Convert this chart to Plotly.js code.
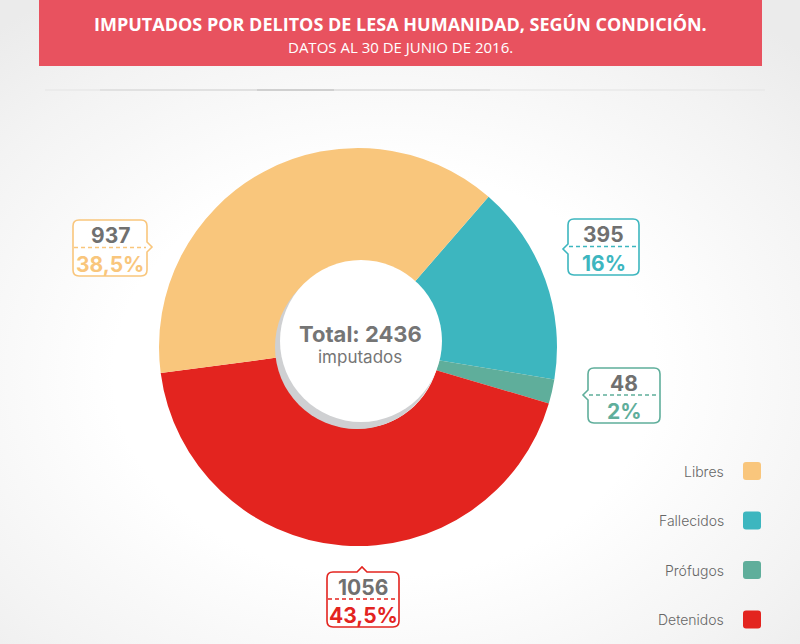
<!DOCTYPE html>
<html>
<head>
<meta charset="utf-8">
<script src="https://cdn.plot.ly/plotly-3.0.1.min.js"></script>
<style>
  html, body { margin: 0; padding: 0; }
  body {
    width: 800px; height: 644px; overflow: hidden;
    background: radial-gradient(ellipse 75% 70% at 48% 58%, #ffffff 45%, #f3f3f3 80%, #ebebeb 100%);
  }
  #chart { width: 800px; height: 644px; }
</style>
</head>
<body>
<div id="chart"></div>
<script>
// Imputados por delitos de lesa humanidad, según condición (30/06/2016)
const categories = ["Fallecidos", "Prófugos", "Detenidos", "Libres"];
const counts = [395, 48, 1056, 937];
const percentLabels = ["16%", "2%", "43,5%", "38,5%"];
const colors = ["#3db6bf", "#5fae9b", "#e3241f", "#f9c67c"];
const legendOrder = ["Libres", "Fallecidos", "Prófugos", "Detenidos"];
const totalLabel = "Total: 2436";
const titleText = "IMPUTADOS POR DELITOS DE LESA HUMANIDAD, SEGÚN CONDICIÓN.";
const subtitleText = "DATOS AL 30 DE JUNIO DE 2016.";

const W = 800, H = 644;
const NUM_FONT = "Inter, 'Open Sans', sans-serif";
const GREY = "#707070";

// Callout boxes (pixel frame), one per category, in the order above
const callouts = {
  "Fallecidos": {x0: 568, y0: 219, x1: 639, y1: 275, side: "left",  p: 249},
  "Prófugos":   {x0: 588, y0: 368, x1: 660, y1: 423, side: "left",  p: 395},
  "Detenidos":  {x0: 327, y0: 572, x1: 399, y1: 627, side: "top",   p: 362},
  "Libres":     {x0: 73,  y0: 220, x1: 147, y1: 276, side: "right", p: 247}
};

function calloutPath(b) {
  const r = 6, t = 5;
  let d = `M${b.x0 + r},${b.y0}`;
  if (b.side === "top") d += ` L${b.p - t},${b.y0} L${b.p},${b.y0 - t} L${b.p + t},${b.y0}`;
  d += ` L${b.x1 - r},${b.y0} Q${b.x1},${b.y0} ${b.x1},${b.y0 + r}`;
  if (b.side === "right") d += ` L${b.x1},${b.p - t} L${b.x1 + t},${b.p} L${b.x1},${b.p + t}`;
  d += ` L${b.x1},${b.y1 - r} Q${b.x1},${b.y1} ${b.x1 - r},${b.y1}`;
  d += ` L${b.x0 + r},${b.y1} Q${b.x0},${b.y1} ${b.x0},${b.y1 - r}`;
  if (b.side === "left") d += ` L${b.x0},${b.p + t} L${b.x0 - t},${b.p} L${b.x0},${b.p - t}`;
  d += ` L${b.x0},${b.y0 + r} Q${b.x0},${b.y0} ${b.x0 + r},${b.y0} Z`;
  return d;
}

const pieCenter = {x: 358, y: 347}, pieR = 199;

const traces = [
  // empty carrier for the pixel-frame axes used by shapes/annotations
  {type: "scatter", x: [], y: [], showlegend: false, hoverinfo: "skip"},
  {
    type: "pie",
    labels: categories,
    values: counts,
    sort: false,
    direction: "clockwise",
    rotation: 41,
    hole: 0.41,
    marker: {colors: colors, line: {width: 0}},
    textinfo: "none",
    hoverinfo: "skip",
    showlegend: false,
    domain: {
      x: [(pieCenter.x - pieR) / W, (pieCenter.x + pieR) / W],
      y: [1 - (pieCenter.y + pieR) / H, 1 - (pieCenter.y - pieR) / H]
    }
  }
];

const shapes = [];
const annotations = [];

// Header banner
shapes.push({type: "rect", xref: "x", yref: "y", x0: 39, x1: 762, y0: 0, y1: 66,
  fillcolor: "#e8525f", line: {width: 0}, layer: "below"});
annotations.push({xref: "x", yref: "y", x: 400, y: 24, text: "<b>" + titleText + "</b>",
  showarrow: false, font: {family: "'Open Sans', sans-serif", size: 18, color: "#ffffff"}});
annotations.push({xref: "x", yref: "y", x: 400, y: 47, text: subtitleText,
  showarrow: false, font: {family: "'Open Sans', sans-serif", size: 15, color: "#ffffff", weight: 400}});

// Divider rule below the header
[[45, 765, "#e8e8e8"], [100, 490, "#dedede"], [257, 334, "#cacaca"]].forEach(s => {
  shapes.push({type: "line", xref: "x", yref: "y", x0: s[0], x1: s[1], y0: 90, y1: 90,
    line: {color: s[2], width: 1.5}, layer: "below"});
});

// Centre disc with its drop shadow
shapes.push({type: "circle", xref: "x", yref: "y", x0: 357 - 82, x1: 357 + 82, y0: 347 - 82, y1: 347 + 82,
  fillcolor: "#cfd0d2", line: {width: 0}, layer: "above"});
shapes.push({type: "circle", xref: "x", yref: "y", x0: 361 - 81, x1: 361 + 81, y0: 341 - 81, y1: 341 + 81,
  fillcolor: "#ffffff", line: {width: 0}, layer: "above"});
annotations.push({xref: "x", yref: "y", x: 360, y: 334, text: totalLabel, showarrow: false,
  font: {family: NUM_FONT, size: 22, color: "#757575", weight: 700}});
annotations.push({xref: "x", yref: "y", x: 360, y: 357, text: "imputados", showarrow: false,
  font: {family: NUM_FONT, size: 17, color: "#757575", weight: 400}});

// Value callouts
categories.forEach((cat, i) => {
  const b = callouts[cat];
  const col = colors[i];
  shapes.push({type: "path", xref: "x", yref: "y", path: calloutPath(b),
    fillcolor: "rgba(255,255,255,0.9)", line: {color: col, width: 1.6}, layer: "above"});
  shapes.push({type: "line", xref: "x", yref: "y", x0: b.x0 + 1, x1: b.x1 - 1,
    y0: (b.y0 + b.y1) / 2 - 0.5, y1: (b.y0 + b.y1) / 2 - 0.5,
    line: {color: col, width: 1.4, dash: "4px,3px"}, layer: "above"});
  const cx = (b.x0 + b.x1) / 2;
  annotations.push({xref: "x", yref: "y", x: cx, y: b.y0 + 15, text: String(counts[i]),
    showarrow: false, font: {family: NUM_FONT, size: 21, color: GREY, weight: 700}});
  annotations.push({xref: "x", yref: "y", x: cx, y: b.y1 - 12, text: percentLabels[i],
    showarrow: false, font: {family: NUM_FONT, size: 21, color: col, weight: 700}});
});

// Legend: label on the left, colour swatch on the right
legendOrder.forEach((name, k) => {
  const i = categories.indexOf(name);
  const cy = 471 + k * 49.5;
  annotations.push({xref: "x", yref: "y", x: 726, y: cy, xanchor: "right", text: name,
    showarrow: false, font: {family: NUM_FONT, size: 14, color: "#666666", weight: 300}});
  const x0 = 743, x1 = 761, y0 = cy - 9, y1 = cy + 9, r = 3;
  shapes.push({type: "path", xref: "x", yref: "y",
    path: `M${x0 + r},${y0} L${x1 - r},${y0} Q${x1},${y0} ${x1},${y0 + r} L${x1},${y1 - r} Q${x1},${y1} ${x1 - r},${y1} L${x0 + r},${y1} Q${x0},${y1} ${x0},${y1 - r} L${x0},${y0 + r} Q${x0},${y0} ${x0 + r},${y0} Z`,
    fillcolor: colors[i], line: {width: 0}, layer: "above"});
});

const layout = {
  width: W, height: H,
  margin: {l: 0, r: 0, t: 0, b: 0},
  paper_bgcolor: "rgba(0,0,0,0)",
  plot_bgcolor: "rgba(0,0,0,0)",
  showlegend: false,
  xaxis: {range: [0, W], visible: false, fixedrange: true, domain: [0, 1]},
  yaxis: {range: [H, 0], visible: false, fixedrange: true, domain: [0, 1]},
  shapes: shapes,
  annotations: annotations
};

Plotly.newPlot("chart", traces, layout, {displayModeBar: false, staticPlot: true});
</script>
</body>
</html>
